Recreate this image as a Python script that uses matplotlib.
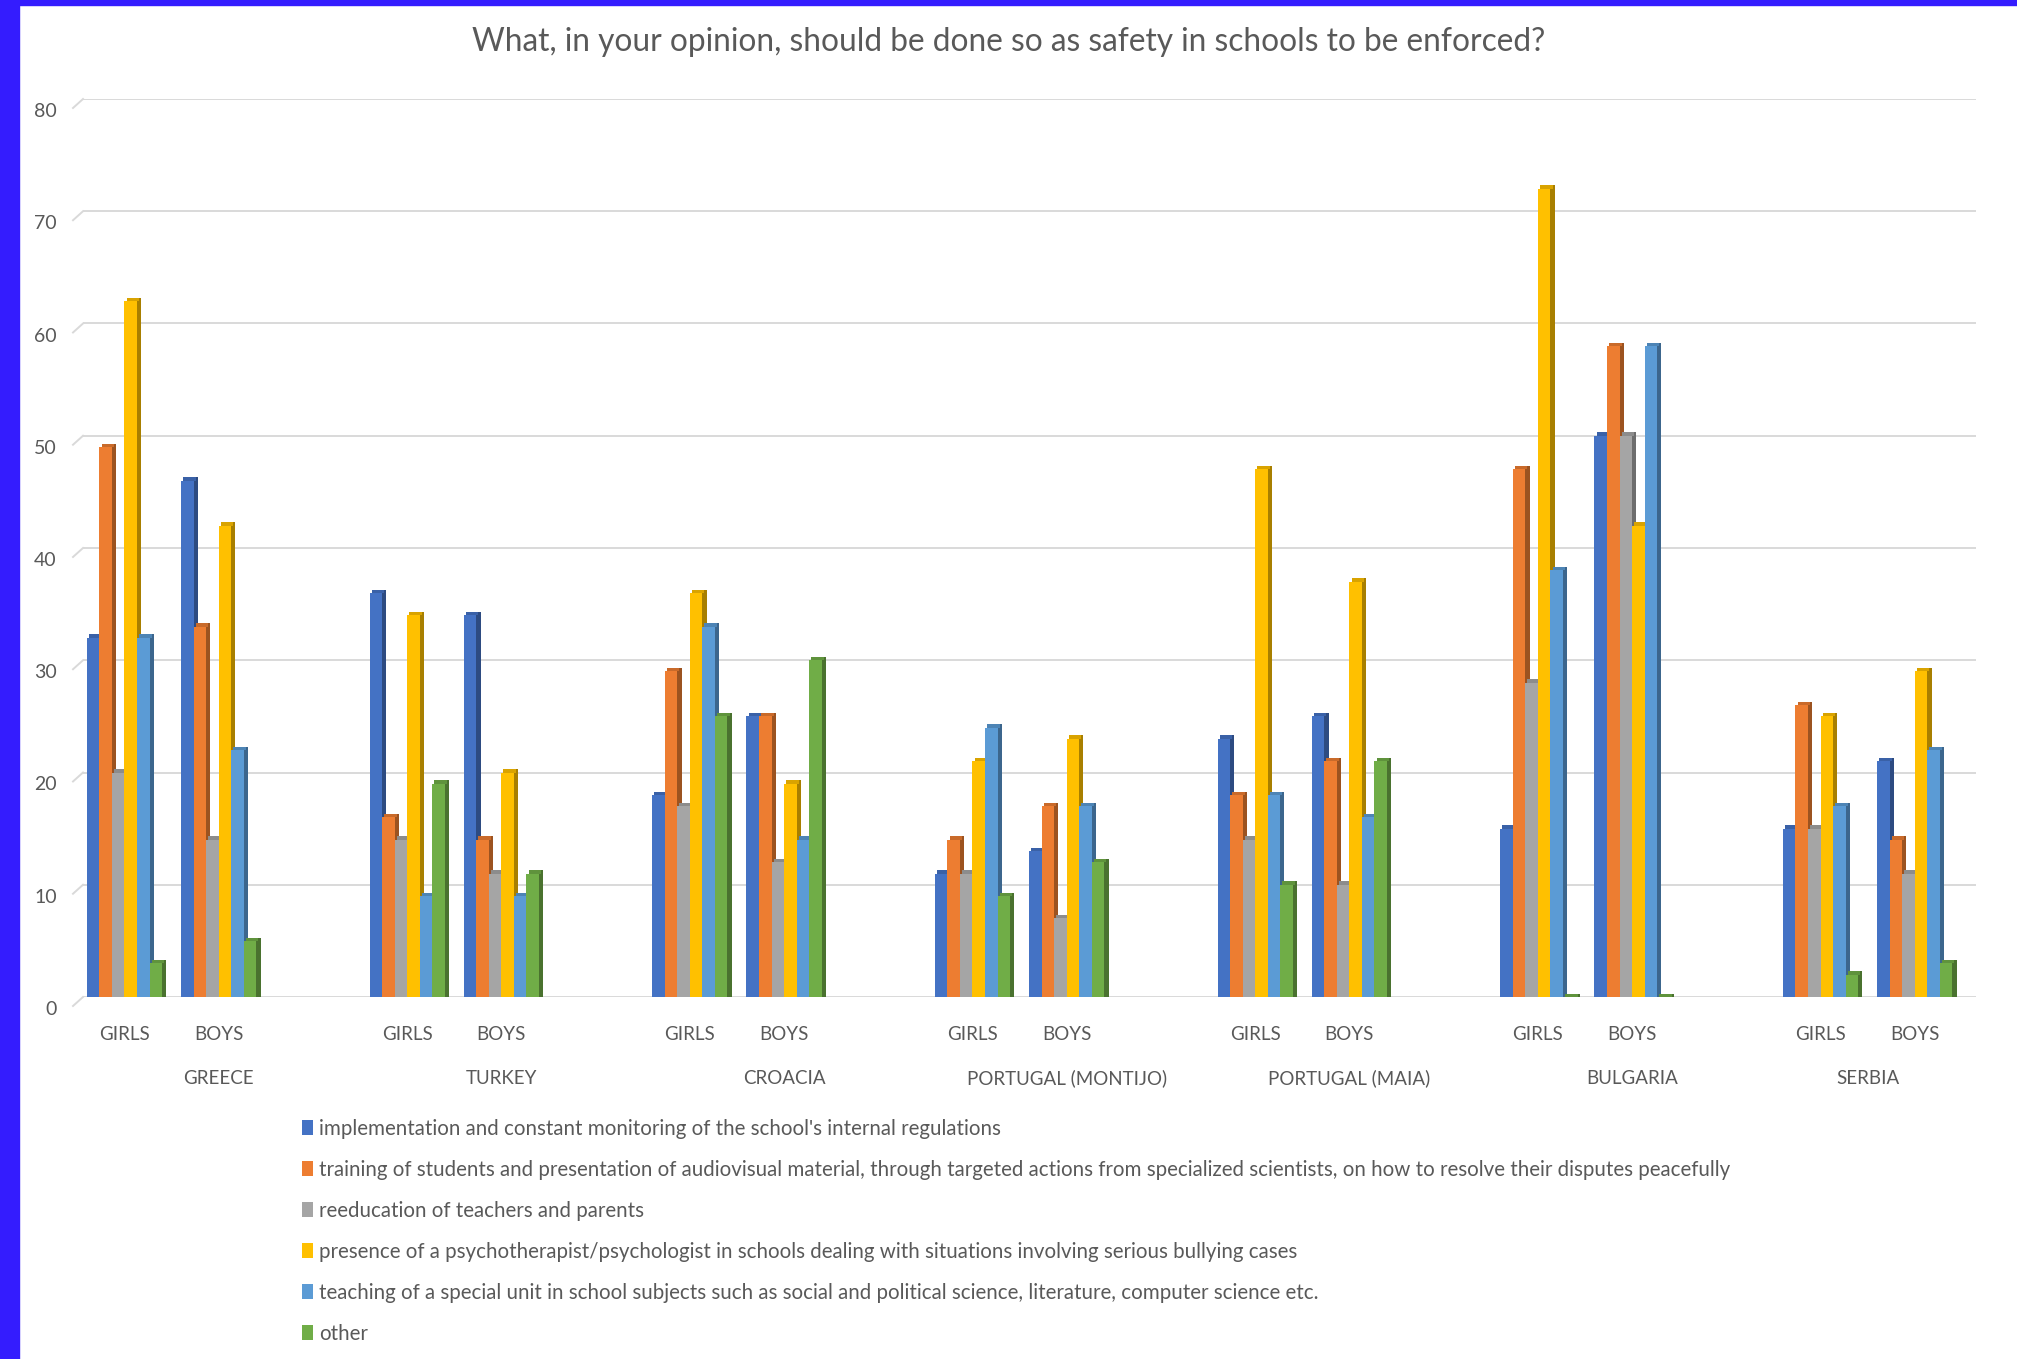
import numpy as np
import matplotlib.pyplot as plt
from matplotlib.patches import Patch, Rectangle
from matplotlib.colors import to_rgb
from matplotlib.transforms import ScaledTranslation

plt.rcParams["font.family"] = ["Lato", "DejaVu Sans"]

title = "What, in your opinion, should be done so as safety in schools to be enforced?"
countries = ["GREECE", "TURKEY", "CROACIA", "PORTUGAL (MONTIJO)",
             "PORTUGAL (MAIA)", "BULGARIA", "SERBIA"]
genders = ["GIRLS", "BOYS"]
answers = [
    "implementation and constant monitoring of the school's internal regulations",
    "training of students and presentation of audiovisual material, through targeted actions "
    "from specialized scientists, on how to resolve their disputes peacefully",
    "reeducation of teachers and parents",
    "presence of a psychotherapist/psychologist in schools dealing with situations involving "
    "serious bullying cases",
    "teaching of a special unit in school subjects such as social and political science, "
    "literature, computer science etc.",
    "other",
]

# one row per country, one column per answer
girls = [
    [32, 49, 20, 62, 32, 3],
    [36, 16, 14, 34, 9, 19],
    [18, 29, 17, 36, 33, 25],
    [11, 14, 11, 21, 24, 9],
    [23, 18, 14, 47, 18, 10],
    [15, 47, 28, 72, 38, 0],
    [15, 26, 15, 25, 17, 2],
]
boys = [
    [46, 33, 14, 42, 22, 5],
    [34, 14, 11, 20, 9, 11],
    [25, 25, 12, 19, 14, 30],
    [13, 17, 7, 23, 17, 12],
    [25, 21, 10, 37, 16, 21],
    [50, 58, 50, 42, 58, 0],
    [21, 14, 11, 29, 22, 3],
]

colors = ["#4472C4", "#ED7D31", "#A5A5A5", "#FFC000", "#5B9BD5", "#70AD47"]
text_color = "#595959"

W, H = 2017, 1359
fig = plt.figure(figsize=(W / 100, H / 100), dpi=100)
ax = fig.add_axes([83 / W, 1 - 997 / H, (1976 - 83) / W, (997 - 99) / H])

values = np.array([[g, b] for g, b in zip(girls, boys)])  # country, gender, answer
pos = np.array([[3 * c + g for g in range(2)] for c in range(len(countries))])
n_slots = pos.max() + 1

w = 0.133
side = 0.045
rise = 0.3
for i, col in enumerate(colors):
    dark = tuple(0.66 * np.array(to_rgb(col)))
    xs = pos.ravel() + (i - 2.5) * w
    v = values[:, :, i].ravel()
    lid = np.full_like(v, rise, dtype=float)
    # 3d look: darker side face and top, then the front face
    ax.bar(xs + w / 2 + side / 2, v + rise, width=side, color=dark, linewidth=0, zorder=2)
    ax.bar(xs + side / 2, lid, bottom=v, width=w,
           color=tuple(0.85 * np.array(to_rgb(col))), linewidth=0, zorder=2)
    ax.bar(xs, v, width=w, color=col, linewidth=0, zorder=3)

ax.set_xlim(-0.44, 19.65)
ax.set_ylim(0, 80)
yticks = np.arange(0, 81, 10)
ax.set_yticks(yticks)
ax.yaxis.grid(True, color="#d9d9d9", lw=1.4, zorder=0)
ax.set_axisbelow(True)
for s in ax.spines.values():
    s.set_visible(False)
ax.tick_params(axis="y", length=0, pad=19, labelsize=14, labelcolor=text_color)
shift = ScaledTranslation(0, -11 / 100, fig.dpi_scale_trans)
for lab in ax.get_yticklabels():
    lab.set_transform(lab.get_transform() + shift)
# small slanted floor ticks at the left of each gridline
for v in yticks:
    ax.plot([-0.44, -0.44 - 0.106], [v, v - 0.8], color="#d9d9d9", lw=1.4,
            clip_on=False, zorder=0)

ax.set_xticks(pos.ravel())
ax.set_xticklabels(genders * len(countries))
ax.tick_params(axis="x", length=0, pad=21, labelsize=13.5, labelcolor=text_color)
for c, name in enumerate(countries):
    # each country owns three slots (girls, boys, gap), the last one only two
    centre = (3 * c + min(3 * c + 2, n_slots - 1)) / 2
    ax.annotate(name, xy=(centre, 0), xycoords=("data", "axes fraction"),
                xytext=(0, -81), textcoords="offset pixels", ha="center", va="center",
                fontsize=13.5, color=text_color)

fig.text(0.5, 1 - 42 / H, title, ha="center", va="center", fontsize=22.8,
         color=text_color)

handles = [Patch(facecolor=c, edgecolor="none") for c in colors]
fig.legend(handles, answers, loc="upper left", bbox_to_anchor=(302 / W, 1 - 1119 / H),
           frameon=False, fontsize=14.8, labelcolor=text_color, handlelength=0.55,
           handleheight=0.75, handletextpad=0.3, labelspacing=1.02, borderpad=0,
           borderaxespad=0)

# blue frame of the screenshot
fig.patches.append(Rectangle((0, 0), 19 / W, 1, transform=fig.transFigure,
                             color="#341CFE", zorder=10))
fig.patches.append(Rectangle((0, 1 - 5 / H), 1, 5 / H, transform=fig.transFigure,
                             color="#341CFE", zorder=10))

fig.savefig("out.png", dpi=100)
